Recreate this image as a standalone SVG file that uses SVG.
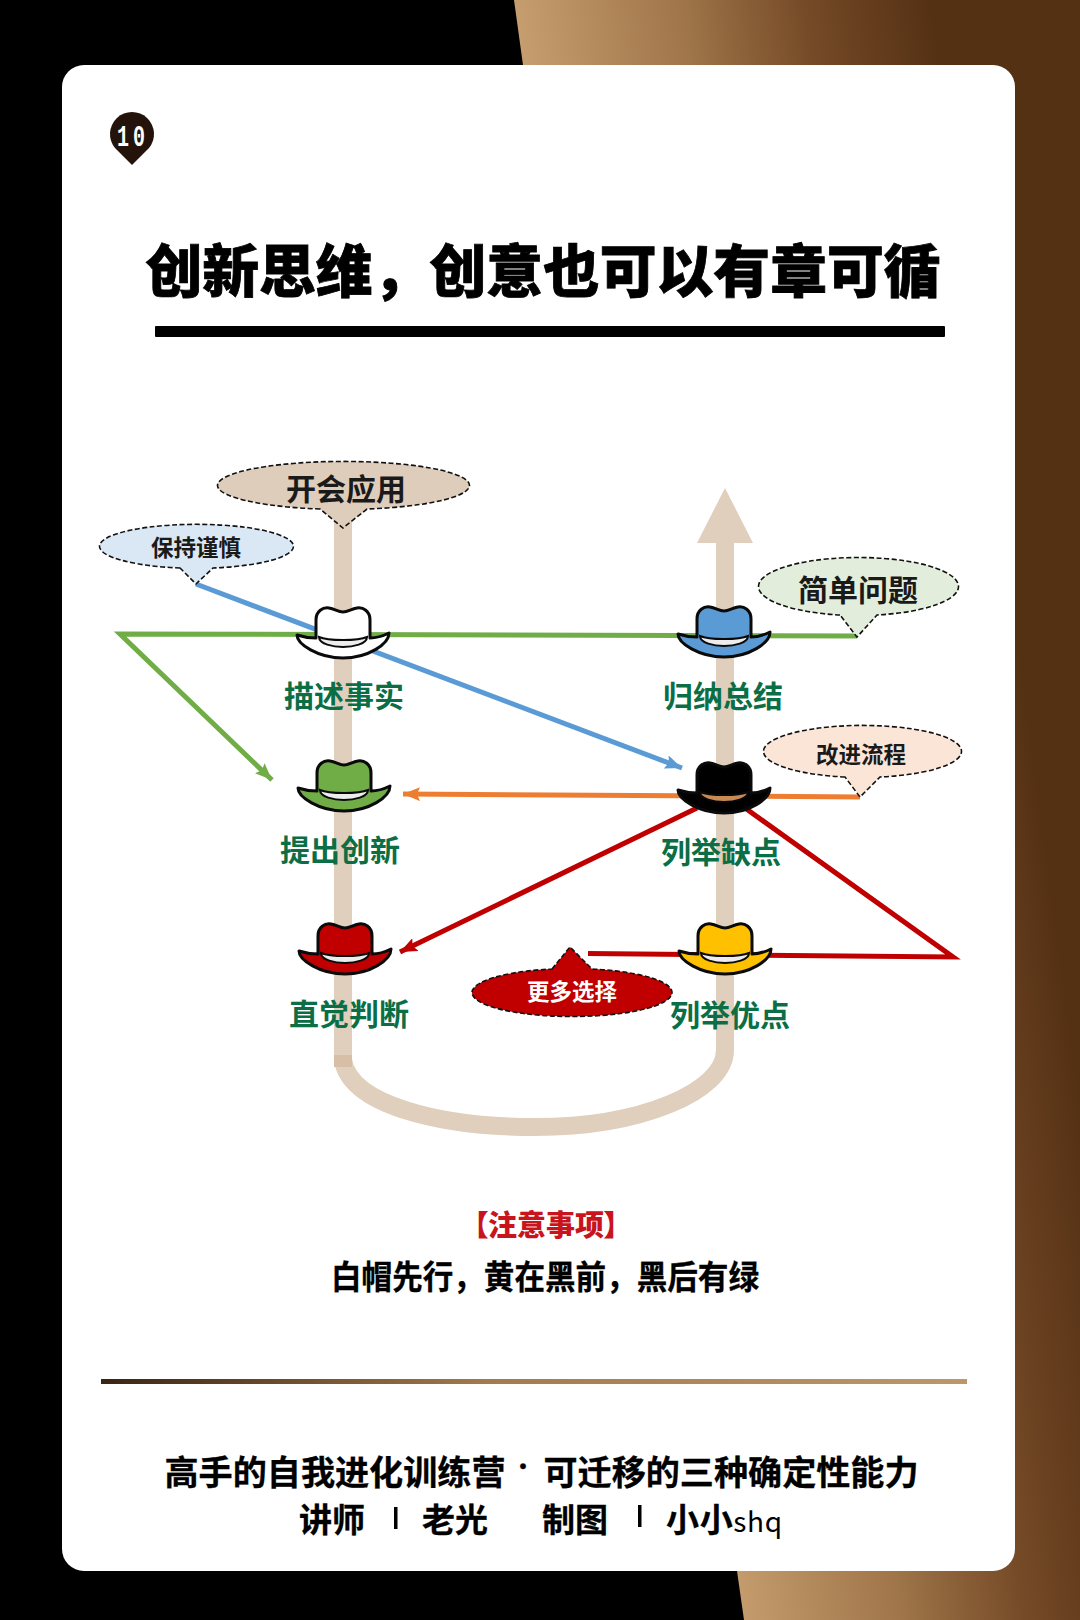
<svg xmlns="http://www.w3.org/2000/svg" width="1080" height="1620" viewBox="0 0 1080 1620">
<style>
text{font-family:"Noto Sans CJK SC","Noto Sans",sans-serif;text-anchor:middle}
.hl{font-size:30px;font-weight:700;fill:#0B6E45}
.cb{font-weight:700;fill:#1a1a1a}
.bub{stroke:#111;stroke-width:1.6;stroke-dasharray:5 2.5}
.conn{fill:none;stroke-width:5}
.hatshape{stroke:#0a0a0a;stroke-width:3;stroke-linejoin:round}
.band{stroke:#0a0a0a;stroke-width:2;fill:currentColor}
.pipe{fill:none;stroke:#E0CFBD;stroke-width:18}
.heavy{font-weight:900;fill:#000;stroke:#000}
.medium{font-weight:700;fill:#000;stroke:#000}
</style>
<defs>
<linearGradient id="bg" gradientUnits="userSpaceOnUse" x1="515" y1="0" x2="922.500" y2="-55.400">
<stop offset="0" stop-color="#C69D6E"/><stop offset="0.4" stop-color="#9F7549"/><stop offset="0.7" stop-color="#754A27"/><stop offset="1" stop-color="#553114"/>
</linearGradient>
<linearGradient id="rule" x1="0" x2="1" y1="0" y2="0">
<stop offset="0" stop-color="#3A2412"/><stop offset="0.45" stop-color="#A47B4C"/><stop offset="1" stop-color="#BE9767"/>
</linearGradient>
<g id="hat">
<path class="hatshape" d="M-27,30 L-27,12 C-27,3 -20,-1 -14,0 C-8,1 -5,4 0,4 C5,4 8,1 14,0 C20,-1 27,3 27,12 L27,30 C33,30 40,28 46,25 C46,36 25,50 0,50 C-25,50 -46,36 -46,27 C-40,29 -33,30 -27,30 Z"/>
<path class="band" d="M-24,29 C-24,36 -10,39 0,39 C10,39 24,36 24,29 C15,33 -15,33 -24,29Z"/>
</g>
<marker id="ag" markerUnits="userSpaceOnUse" markerWidth="18" markerHeight="14" refX="17" refY="7" orient="auto"><path d="M0,0 L17,7 L0,14 L3,7Z" fill="#70AD47"/></marker>
<marker id="ab" markerUnits="userSpaceOnUse" markerWidth="18" markerHeight="14" refX="17" refY="7" orient="auto"><path d="M0,0 L17,7 L0,14 L3,7Z" fill="#5B9BD5"/></marker>
<marker id="ao" markerUnits="userSpaceOnUse" markerWidth="18" markerHeight="14" refX="17" refY="7" orient="auto"><path d="M0,0 L17,7 L0,14 L3,7Z" fill="#ED7D31"/></marker>
<marker id="ar" markerUnits="userSpaceOnUse" markerWidth="18" markerHeight="14" refX="17" refY="7" orient="auto"><path d="M0,0 L17,7 L0,14 L3,7Z" fill="#C00000"/></marker>
</defs>

<g id="background">
<rect width="1080" height="1620" fill="#000"/>
<path d="M514,0 L523,65 L737,1571 L744,1620 H1080 V0Z" fill="url(#bg)"/>
<rect id="card" x="62" y="65" width="953" height="1506" rx="22" fill="#fff"/>
</g>

<g id="logo">
<path d="M132,165 L115,148 A22,22 0 1 1 149,148 Z" fill="#24130A"/>
<text x="133" y="146" font-size="30" font-weight="700" fill="#fff" letter-spacing="6" style="font-family:'Liberation Mono',monospace" textLength="32" lengthAdjust="spacingAndGlyphs">10</text>
</g>

<g id="title">
<text class="heavy" x="543" y="292" font-size="57" stroke-width="0.8" textLength="795" lengthAdjust="spacingAndGlyphs">创新思维，创意也可以有章可循</text>
<rect x="155" y="326" width="790" height="11" rx="1" fill="#000"/>
</g>

<g id="pipes">
<path class="pipe" d="M343,515 V1060 C350,1105 440,1127 535,1127 C640,1127 725,1092 725,1050 V535"/>
<path d="M697,543 L725,488 L753,543Z" fill="#E0CFBD"/>
<rect x="334" y="1055" width="18" height="12" fill="#D6BFA6"/>
</g>

<g id="connectors">
<path class="conn" stroke="#5B9BD5" marker-end="url(#ab)" d="M196,584 L682,768"/>
<path class="conn" stroke="#70AD47" marker-end="url(#ag)" d="M857,636 L120,634 L272,780"/>
<path class="conn" stroke="#ED7D31" marker-end="url(#ao)" d="M860,797 L403,794"/>
<path class="conn" stroke="#C00000" marker-end="url(#ar)" d="M697,808 L400,952"/>
<path class="conn" stroke="#C00000" d="M745,808 L953,957 L588,953.500"/>
</g>

<g id="hat-white"><use href="#hat" x="343" y="608" fill="#fff" color="#EDEDED"/><text class="hl" x="344" y="707">描述事实</text></g>
<g id="hat-green"><use href="#hat" x="344" y="761" fill="#70AD47" color="#EDEDED"/><text class="hl" x="340" y="861">提出创新</text></g>
<g id="hat-red"><use href="#hat" x="345" y="924" fill="#C00000" color="#EDEDED"/><text class="hl" x="349" y="1025">直觉判断</text></g>
<g id="hat-blue"><use href="#hat" x="724" y="607" fill="#5B9BD5" color="#EDEDED"/><text class="hl" x="723" y="707">归纳总结</text></g>
<g id="hat-black"><use href="#hat" x="724" y="763" fill="#000" color="#C98A55"/><text class="hl" x="721" y="863">列举缺点</text></g>
<g id="hat-yellow"><use href="#hat" x="725" y="924" fill="#FFC000" color="#EDEDED"/><text class="hl" x="730" y="1026">列举优点</text></g>

<g id="bubble-meeting"><path class="bub" fill="#DFCDBC" d="M320,509 A126,24 0 1 1 367,509 L343,528 Z"/><text class="cb" x="346" y="500" font-size="30" font-weight="500">开会应用</text></g>
<g id="bubble-caution"><path class="bub" fill="#DAE8F6" d="M180,568 A97,22 0 1 1 213,568 L196,584 Z"/><text class="cb" x="196" y="556" font-size="22.500">保持谨慎</text></g>
<g id="bubble-simple"><path class="bub" fill="#E2EEDB" d="M840,615 A100,29 0 1 1 877,615 L857,637 Z"/><text class="cb" x="858" y="601" font-size="30">简单问题</text></g>
<g id="bubble-process"><path class="bub" fill="#FBE5D6" d="M845,777 A99,26 0 1 1 880,777 L860,797 Z"/><text class="cb" x="861" y="763" font-size="22.500">改进流程</text></g>
<g id="bubble-more"><path class="bub" fill="#C00000" d="M552,969 L570,947 L592,969 A100,24 0 1 1 552,969 Z"/><text x="572" y="1000" font-size="22.500" font-weight="700" fill="#fff">更多选择</text></g>

<g id="notes">
<text x="546" y="1236" font-size="29" font-weight="900" fill="#C8141C" style="font-feature-settings:'palt'">【注意事项】</text>
<text class="medium" x="545" y="1289" font-size="33" stroke-width="0.3" textLength="428" lengthAdjust="spacingAndGlyphs">白帽先行，黄在黑前，黑后有绿</text>
</g>

<rect id="divider" x="101" y="1379" width="866" height="5" fill="url(#rule)"/>

<g id="footer">
<text class="medium" x="335" y="1485" font-size="34" stroke-width="0.3" textLength="341" lengthAdjust="spacingAndGlyphs">高手的自我进化训练营</text>
<text class="medium" x="523" y="1474" font-size="22" stroke-width="0.3">·</text>
<text class="medium" x="731" y="1485" font-size="34" stroke-width="0.3" textLength="375" lengthAdjust="spacingAndGlyphs">可迁移的三种确定性能力</text>
<text class="medium" x="332" y="1532" font-size="33" stroke-width="0.3">讲师</text>
<rect x="394" y="1507" width="3.500" height="22" fill="#000"/>
<text class="medium" x="455" y="1532" font-size="33" stroke-width="0.3">老光</text>
<text class="medium" x="575" y="1532" font-size="33" stroke-width="0.3">制图</text>
<rect x="638" y="1505" width="3.500" height="22" fill="#000"/>
<text class="medium" x="724" y="1532" font-size="33" stroke-width="0.3" textLength="116">小小<tspan font-size="28" font-weight="400" stroke-width="0">shq</tspan></text>
</g>
</svg>
